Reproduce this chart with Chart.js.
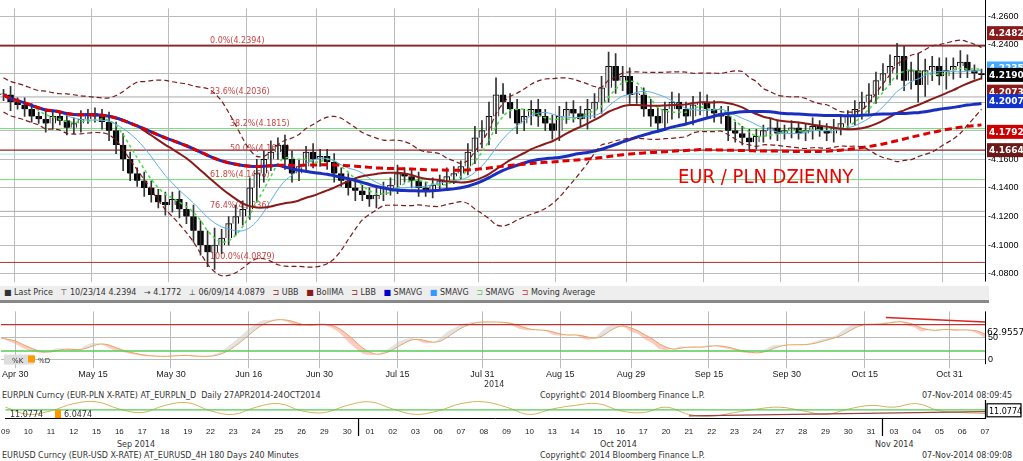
<!DOCTYPE html>
<html><head><meta charset="utf-8">
<script src="https://cdn.jsdelivr.net/npm/chart.js@4"></script>
<style>
body{margin:0;background:#fff;font-family:"DejaVu Sans",sans-serif;width:1023px;height:461px;overflow:hidden;position:relative}
.ab{position:absolute}
.txt{font-size:8px;color:#333;white-space:nowrap}
</style></head><body>
<div class="ab" style="left:0;top:0;width:1023px;height:290px"><canvas id="main"></canvas></div>
<div class="ab txt" style="left:0;top:286px;width:985px;height:14px;background:#eee;border-bottom:3px solid #888;line-height:14px;padding-left:4px">
■ Last Price &nbsp; ⊤ 10/23/14 4.2394 &nbsp; → 4.1772 &nbsp; ⊥ 06/09/14 4.0879 &nbsp; <span style="color:#8b1a1a">⊐</span> UBB &nbsp; <span style="color:#8b1a1a">■</span> BollMA &nbsp; <span style="color:#8b1a1a">⊐</span> LBB &nbsp; <span style="color:#00c">■</span> SMAVG &nbsp; <span style="color:#39f">■</span> SMAVG &nbsp; <span style="color:#5c5">⊐</span> SMAVG &nbsp; <span style="color:#c33">⊐</span> Moving Average</div>
<div class="ab" style="left:0;top:303px;width:1023px;height:78px"><canvas id="stoch"></canvas></div>
<div class="ab txt" style="left:484px;top:380px">2014</div>
<div class="ab txt" style="left:0;top:391px;width:1023px">
<span class="ab" style="left:2px">EURPLN Curncy (EUR-PLN X-RATE) AT_EURPLN_D &nbsp;Daily 27APR2014-24OCT2014</span>
<span class="ab" style="left:540px">Copyright© 2014 Bloomberg Finance L.P.</span>
<span class="ab" style="left:922px">07-Nov-2014 08:09:45</span></div>
<div class="ab" style="left:0;top:400px;width:1023px;height:36px"><canvas id="usd"></canvas></div>
<div class="ab txt" style="left:0;top:451px;width:1023px">
<span class="ab" style="left:2px">EURUSD Curncy (EUR-USD X-RATE) AT_EURUSD_4H 180 Days 240 Minutes</span>
<span class="ab" style="left:540px">Copyright© 2014 Bloomberg Finance L.P.</span>
<span class="ab" style="left:922px">07-Nov-2014 08:09:08</span></div>
<div class="ab txt" style="left:117px;top:440px">Sep 2014</div>
<div class="ab txt" style="left:600px;top:440px">Oct 2014</div>
<div class="ab txt" style="left:875px;top:440px">Nov 2014</div>
<script>
// EUR/PLN daily closes, Apr 28 - Nov 7 2014
const closes = [
 4.205,4.200,4.198,
 4.195,4.190,4.188,4.185,4.190,4.187,4.182,4.185,4.188,4.192,4.190,4.186,4.180,4.170,4.160,4.150,4.145,4.140,4.135,4.130,4.128,4.132,
 4.125,4.120,4.110,4.100,4.095,4.100,4.105,4.115,4.120,4.125,4.140,4.150,4.160,4.165,4.170,4.160,4.150,4.155,4.165,4.160,4.162,
 4.158,4.150,4.145,4.140,4.138,4.135,4.132,4.135,4.140,4.142,4.150,4.148,4.145,4.140,4.138,4.142,4.145,4.148,4.150,4.155,4.165,4.175,4.180,
 4.190,4.205,4.200,4.195,4.185,4.190,4.195,4.190,4.185,4.180,4.190,4.195,4.192,4.188,4.195,4.200,4.210,4.225,4.215,4.218,4.205,
 4.205,4.195,4.190,4.185,4.195,4.200,4.195,4.190,4.198,4.200,4.195,4.192,4.190,4.180,4.178,4.175,4.172,4.176,4.180,4.182,4.178,4.180,
 4.182,4.178,4.180,4.183,4.180,4.178,4.182,4.185,4.190,4.195,4.200,4.205,4.215,4.220,4.225,4.232,4.215,4.222,4.212,4.222,4.225,4.218,4.222,
 4.225,4.228,4.222,4.220,4.219];
// wick extension (price units) above and below each body
const wicks = [
 .004,.006,.003,.005,.004,.003,.006,.004,.003,.005,.004,.006,.003,.004,.005,.007,.006,.008,.005,.004,.006,.005,.004,.007,.005,
 .006,.005,.008,.007,.010,.012,.006,.005,.008,.006,.007,.010,.006,.008,.005,.007,.006,.005,.004,.006,.005,
 .005,.006,.004,.005,.007,.004,.005,.006,.004,.005,.006,.004,.005,.006,.004,.005,.004,.006,.005,.004,.006,.008,.007,
 .010,.012,.008,.006,.007,.005,.006,.007,.005,.006,.007,.005,.006,.005,.007,.006,.008,.010,.009,.007,.006,
 .006,.005,.007,.006,.005,.007,.006,.005,.006,.007,.005,.006,.005,.007,.006,.005,.006,.005,.004,.006,.005,.004,
 .005,.004,.005,.006,.004,.005,.006,.005,.004,.006,.007,.008,.006,.007,.008,.009,.007,.006,.012,.008,.007,.006,.009,
 .006,.008,.005,.004,.003];
const tickLabels = {2:'Apr 30',13:'May 15',24:'May 30',35:'Jun 16',45:'Jun 30',56:'Jul 15',68:'Jul 31',79:'Aug 15',89:'Aug 29',100:'Sep 15',111:'Sep 30',122:'Oct 15',134:'Oct 31'};
const priceTicks = [4.08,4.10,4.12,4.14,4.16,4.18,4.20,4.22,4.24,4.26];
const fibLevels = [4.2394,4.2036,4.1815,4.1636,4.1458,4.1236,4.0879];
const fibNames = ['0.0%','23.6%','38.2%','50.0%','61.8%','76.4%','100.0%'];
const fibColors = ['#a33','#aaa','#7d7','#9ee','#7d7','#aaa','#a33'];
const redLines = [4.2394,4.1664];
const tagValues = [4.2482,4.2235,4.2190,4.2073,4.2007,4.1792,4.1664];
const tagColors = ['#8b1a1a','#4af','#000','#8b1a1a','#1133cc','#c00','#6b1a1a'];
const usdLabels = ['09','10','11','12','15','16','17','18','19','22','23','24','25','26','29','30','01','02','03','06','07','08','09','10','13','14','15','16','17','20','21','22','23','24','27','28','29','30','31','03','04','05','06','07'];
const usdOsc = [60,20,40,80,90,50,30,70,85,40,20,60,80,40,30,70,90,50,20,40,80,90,60,20,50,70,80,40,30,60,20,10,30,50,60,40,20,50,70,60,80,40,30,25];

const n = closes.length;
const labels = closes.map((c,i)=>tickLabels[i]||'');
const opens = closes.map((c,i)=>i?closes[i-1]:c);
const highs = closes.map((c,i)=>Math.max(c,opens[i])+wicks[i]);
const lows = closes.map((c,i)=>Math.min(c,opens[i])-wicks[i]);
function sma(p){return closes.map((c,i)=>{const s=closes.slice(Math.max(0,i-p+1),i+1);return s.reduce((a,b)=>a+b,0)/s.length;});}
function sd(p){const m=sma(p);return closes.map((c,i)=>{const s=closes.slice(Math.max(0,i-p+1),i+1);return Math.sqrt(s.reduce((a,b)=>a+(b-m[i])**2,0)/s.length);});}
const ma20=sma(20), sd20=sd(20);
const ubb=ma20.map((m,i)=>m+2*Math.max(sd20[i],0.006)), lbb=ma20.map((m,i)=>m-2*Math.max(sd20[i],0.006));

const plotRight = 38;
const fixW = {afterFit(a){a.width=plotRight;}};
const overlay = {
  id:'overlay',
  beforeDatasetsDraw(ch){
    const {ctx,chartArea:a,scales:{y}}=ch;
    ctx.save();
    fibLevels.forEach((v,i)=>{const yy=y.getPixelForValue(v);ctx.strokeStyle=fibColors[i];ctx.lineWidth=1;ctx.beginPath();ctx.moveTo(a.left,yy);ctx.lineTo(a.right,yy);ctx.stroke();});
    redLines.forEach(v=>{const yy=y.getPixelForValue(v);ctx.strokeStyle='#9b2222';ctx.lineWidth=1.3;ctx.beginPath();ctx.moveTo(a.left,yy);ctx.lineTo(a.right,yy);ctx.stroke();});
    ctx.font='8px "DejaVu Sans"';ctx.fillStyle='#c44';
    const fx=[210,210,230,230,210,210,210];
    fibLevels.forEach((v,i)=>ctx.fillText(fibNames[i]+'('+v.toFixed(4)+')',fx[i],y.getPixelForValue(v)-3));
    ctx.restore();
  },
  afterDraw(ch){
    const {ctx,chartArea:a,scales:{y}}=ch;
    ctx.save();
    ctx.font='20px "Liberation Sans Narrow","DejaVu Sans Condensed",sans-serif';ctx.fillStyle='#e00';
    ctx.fillText('EUR / PLN DZIENNY',678,183);
    ctx.font='bold 9px "DejaVu Sans"';
    tagValues.forEach((v,i)=>{const yy=y.getPixelForValue(v);ctx.fillStyle=tagColors[i];ctx.fillRect(a.right+2,yy-7,36,14);ctx.fillStyle='#fff';ctx.fillText(v.toFixed(4),a.right+4,yy+3);});
    ctx.strokeStyle='#000';ctx.lineWidth=1;ctx.beginPath();ctx.moveTo(a.right+0.5,0);ctx.lineTo(a.right+0.5,a.bottom);ctx.stroke();
    ctx.restore();
  }
};
const line=(data,color,w,dash)=>({type:'line',data,borderColor:color,borderWidth:w,borderDash:dash||[],pointRadius:0,tension:0.3,fill:false});
new Chart(document.getElementById('main'),{
  data:{labels,datasets:[
    line(ubb,'#7b1a1a',1.2,[5,3]),
    line(lbb,'#7b1a1a',1.2,[5,3]),
    line(sma(100),'#d00',3,[7,4]),
    line(sma(40),'#1a2fc0',3),
    line(ma20,'#8b1a1a',2),
    line(sma(9),'#5ab0e8',1),
    line(sma(5),'#44dd44',1.5,[3,3]),
    {type:'bar',data:closes.map((c,i)=>[lows[i],highs[i]]),backgroundColor:'#333',barThickness:1,grouped:false},
    {type:'bar',data:closes.map((c,i)=>[opens[i],c]),backgroundColor:closes.map((c,i)=>c>=opens[i]?'#fff':'#000'),borderColor:'#000',borderWidth:1,barThickness:6,grouped:false,minBarLength:1}
  ]},
  options:{animation:false,responsive:true,maintainAspectRatio:false,layout:{padding:{top:2,bottom:0,left:0,right:0}},
    plugins:{legend:{display:false},tooltip:{enabled:false}},
    scales:{
      x:{ticks:{display:false},grid:{color:c=>tickLabels[c.index]?'#bbb':'transparent',borderDash:[2,2],drawTicks:false},border:{display:false}},
      y:{position:'right',min:4.0745,max:4.2655,...fixW,afterBuildTicks(a){a.ticks=priceTicks.map(v=>({value:v}));},
        ticks:{font:{size:9},color:'#000',callback:v=>'-'+v.toFixed(4)},grid:{color:'#bbb',borderDash:[2,2],drawTicks:false},border:{display:false}}
    }},
  plugins:[overlay]
});

// stochastic subpanel derived from the price series
const kRaw = closes.map((c,i)=>{const h=Math.max(...highs.slice(Math.max(0,i-13),i+1)),l=Math.min(...lows.slice(Math.max(0,i-13),i+1));return 100*(c-l)/(h-l);});
const kS = kRaw.map((v,i)=>{const s=kRaw.slice(Math.max(0,i-2),i+1);return s.reduce((a,b)=>a+b,0)/s.length;});
const dS = kS.map((v,i)=>{const s=kS.slice(Math.max(0,i-2),i+1);return s.reduce((a,b)=>a+b,0)/s.length;});
const stochOverlay={id:'so',afterDraw(ch){const {ctx,chartArea:a,scales:{y}}=ch;ctx.save();
  [[80,'#b33'],[20,'#5c5']].forEach(([v,c])=>{ctx.strokeStyle=c;ctx.lineWidth=1.3;ctx.beginPath();ctx.moveTo(a.left,y.getPixelForValue(v));ctx.lineTo(a.right,y.getPixelForValue(v));ctx.stroke();});
  ctx.strokeStyle='#d22';ctx.lineWidth=1.5;ctx.beginPath();ctx.moveTo(ch.scales.x.getPixelForValue(125),y.getPixelForValue(96));ctx.lineTo(ch.scales.x.getPixelForValue(139),y.getPixelForValue(86));ctx.stroke();
  ctx.font='9px "DejaVu Sans"';ctx.fillStyle='#000';ctx.fillText('62.9557',a.right+2,y.getPixelForValue(63)+3);
  ctx.fillStyle='#ddd';ctx.fillRect(4,y.getPixelForValue(12),30,10);ctx.fillStyle='#f90';ctx.fillRect(28,y.getPixelForValue(12)+1,7,7);
  ctx.font='7px "DejaVu Sans"';ctx.fillStyle='#333';ctx.fillText('%K',12,y.getPixelForValue(12)+8);ctx.fillText('%D',38,y.getPixelForValue(12)+8);
  ctx.strokeStyle='#000';ctx.lineWidth=1;ctx.beginPath();ctx.moveTo(a.right+0.5,a.top);ctx.lineTo(a.right+0.5,a.bottom);ctx.stroke();
  ctx.restore();}};
new Chart(document.getElementById('stoch'),{
  data:{labels,datasets:[
    {type:'line',data:kS,borderColor:'rgba(0,0,0,0)',fill:{target:'+1',above:'rgba(200,200,200,0.5)',below:'rgba(250,150,130,0.5)'},pointRadius:0,tension:0.3},
    {type:'line',data:dS,borderColor:'#e8a050',borderWidth:1,pointRadius:0,tension:0.3}
  ]},
  options:{animation:false,responsive:true,maintainAspectRatio:false,
    plugins:{legend:{display:false},tooltip:{enabled:false}},
    scales:{
      x:{ticks:{autoSkip:false,maxRotation:0,font:{size:9},color:'#222',padding:1},grid:{color:c=>tickLabels[c.index]?'#bbb':'transparent',borderDash:[2,2],tickLength:4},border:{display:false}},
      y:{position:'right',min:-10,max:110,...fixW,afterBuildTicks(a){a.ticks=[{value:0},{value:50}];},ticks:{font:{size:9},color:'#000'},grid:{color:'#bbb',borderDash:[2,2],drawTicks:false},border:{display:false}}
    }},
  plugins:[stochOverlay]
});

// EURUSD subpanel
const usdOverlay={id:'uo',afterDraw(ch){const {ctx,chartArea:a,scales:{y,x}}=ch;ctx.save();
  ctx.strokeStyle='#5c5';ctx.lineWidth=1.2;ctx.beginPath();ctx.moveTo(a.left,y.getPixelForValue(45));ctx.lineTo(a.right,y.getPixelForValue(45));ctx.stroke();
  ctx.strokeStyle='#944';ctx.beginPath();ctx.moveTo(x.getPixelForValue(30),y.getPixelForValue(12));ctx.lineTo(a.right,y.getPixelForValue(35));ctx.stroke();
  ctx.font='8px "DejaVu Sans"';ctx.fillStyle='#333';ctx.fillText('11.0774',10,y.getPixelForValue(22)+3);ctx.fillStyle='#f90';ctx.fillRect(55,y.getPixelForValue(22)-4,6,8);ctx.fillStyle='#333';ctx.fillText('6.0474',64,y.getPixelForValue(22)+3);
  ctx.strokeStyle='#000';ctx.strokeRect(a.right+2,y.getPixelForValue(40)-7,34,13);ctx.fillStyle='#000';ctx.fillText('11.0774',a.right+4,y.getPixelForValue(40)+3);
  ctx.beginPath();ctx.moveTo(a.right+0.5,a.top);ctx.lineTo(a.right+0.5,a.bottom);ctx.stroke();
  [16,39].forEach(i=>{const px=(x.getPixelForValue(i)+x.getPixelForValue(i-1))/2;ctx.beginPath();ctx.moveTo(px,a.bottom);ctx.lineTo(px,a.bottom+50);ctx.stroke();});
  ctx.restore();}};
new Chart(document.getElementById('usd'),{
  type:'line',
  data:{labels:usdLabels,datasets:[{data:usdOsc,borderColor:'#d8b060',borderWidth:1,pointRadius:0,tension:0.4,fill:false}]},
  options:{animation:false,responsive:true,maintainAspectRatio:false,layout:{padding:{top:0}},
    plugins:{legend:{display:false},tooltip:{enabled:false}},
    scales:{
      x:{ticks:{autoSkip:false,maxRotation:0,font:{size:8},color:'#222',padding:1},grid:{display:false},border:{color:'#000'}},
      y:{position:'right',min:0,max:100,...fixW,ticks:{display:false},grid:{display:false},border:{display:false}}
    }},
  plugins:[usdOverlay]
});
</script>
</body></html>
